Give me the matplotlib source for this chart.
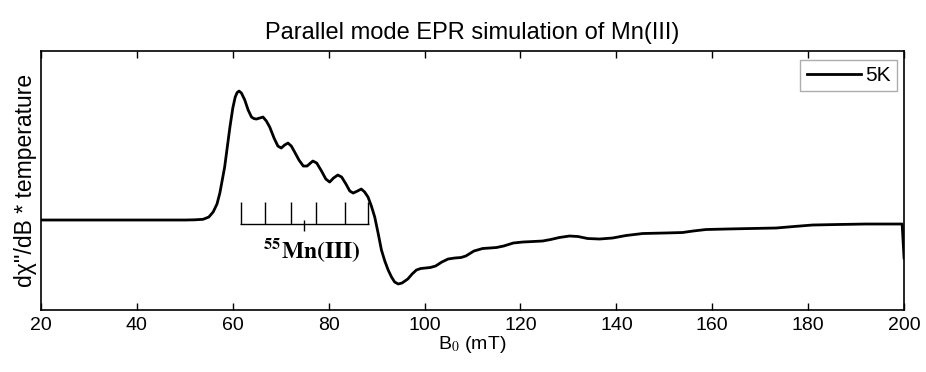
import matplotlib
matplotlib.use('Agg')
import matplotlib.pyplot as plt

#field values (mT) and simulated signal
field = [20, 50, 52, 53.8, 55, 55.9, 56.7, 57.3, 58.3, 59.4, 60.0, 60.5, 60.9, 61.3,
         61.8, 62.5, 63.2, 63.9, 64.4, 64.9, 65.6, 66.3, 67, 67.7, 68.6, 69.4, 70.1,
         70.8, 71.5, 72.2, 72.9, 73.8, 74.7, 75.5, 76.2, 76.7, 77.5, 78.5, 79.4, 80.2,
         81.0, 81.9, 82.7, 83.6, 84.4, 85.1, 86.0, 86.8, 87.5, 88.2, 88.9, 89.6, 90.3,
         91.0, 91.7, 92.4, 93.1, 93.75, 94.5, 95.3, 96.5, 97.4, 98.3, 99.2, 100.2,
         101.2, 102.3, 103.6, 104.9, 106.3, 107.6, 108.6, 110.3, 112.1, 113.6, 115,
         116.5, 118.5, 120.5, 122.6, 124.6, 126.3, 128.1, 130.2, 132, 134, 136.5,
         139.2, 142, 145.5, 150, 153.8, 156, 158.7, 163, 168, 173.3, 177, 180.9, 186,
         192, 199.6, 200]
signal_5K = [0, 0, 0.2, 0.7, 3, 8, 16, 27, 53, 93, 112, 123, 127.5, 129,
             127, 120, 110, 103, 101.5, 101, 102, 103, 99, 93, 82, 74, 72,
             75, 77, 74, 68, 60, 54, 54, 57, 59, 57, 49, 41, 38,
             42, 45, 43, 36, 29, 27, 29, 31, 28, 23, 14, 3, -13,
             -30, -41, -50, -57, -62, -64, -63, -59, -54, -50, -48.5, -48,
             -47.5, -46, -42, -39, -38, -37.5, -36, -31, -28.5, -28, -27.5,
             -26, -23, -22, -21.5, -21, -19.5, -17.5, -16, -16.5, -18.5, -19,
             -18, -15.5, -13.5, -13, -12.5, -11, -9.5, -9, -8.5, -8, -6.5, -5, -4.5,
             -4, -4, -38]

#hyperfine stick positions for 55Mn
sticks = [61.8, 66.7, 72.1, 77.4, 83.5, 88.2]
stick_center = 74.9

plt.rcParams['font.family'] = ['Liberation Sans', 'DejaVu Sans']
plt.rcParams['mathtext.fontset'] = 'stix'

fig = plt.figure(figsize=(9.26, 3.72), dpi=100)
ax = fig.add_axes([0.0443, 0.1667, 0.932, 0.696])

ax.plot(field, signal_5K, color='black', linewidth=2.0, label='5K',
        solid_joinstyle='round')

#stick diagram
ax.hlines(-4, sticks[0] - 0.3, sticks[-1] + 0.3, color='black', linewidth=1.0)
ax.vlines(sticks, -4, 18, color='black', linewidth=1.0)
ax.vlines(stick_center, -11, 0, color='black', linewidth=1.0)
ax.text(76.4, -30, r'$^{\mathbf{55}}\mathbf{Mn(III)}$', ha='center', va='center',
        fontsize=17)

ax.set_xlim(20, 200)
ax.set_ylim(-90, 169)
ax.set_xticks(range(20, 201, 20))
ax.set_yticks([])
ax.tick_params(axis='x', direction='in', top=True, length=5, width=1.0,
               labelsize=14, pad=5)
for sp in ax.spines.values():
    sp.set_linewidth(1.2)

ax.set_title('Parallel mode EPR simulation of Mn(III)', fontsize=17, pad=9)
ax.set_xlabel(r'B$_0$ (mT)', fontsize=14, labelpad=0)
ax.set_ylabel("dχ''/dB * temperature", fontsize=16.5, labelpad=3)

leg = ax.legend(loc='upper right', bbox_to_anchor=(0.9915, 0.966), fontsize=15,
                handlelength=2.6, frameon=True, fancybox=False, borderaxespad=0,
                borderpad=0.3, handletextpad=0.2)
leg.get_frame().set_edgecolor('#999999')
leg.get_frame().set_linewidth(1.0)

plt.savefig('out.png', dpi=100)
